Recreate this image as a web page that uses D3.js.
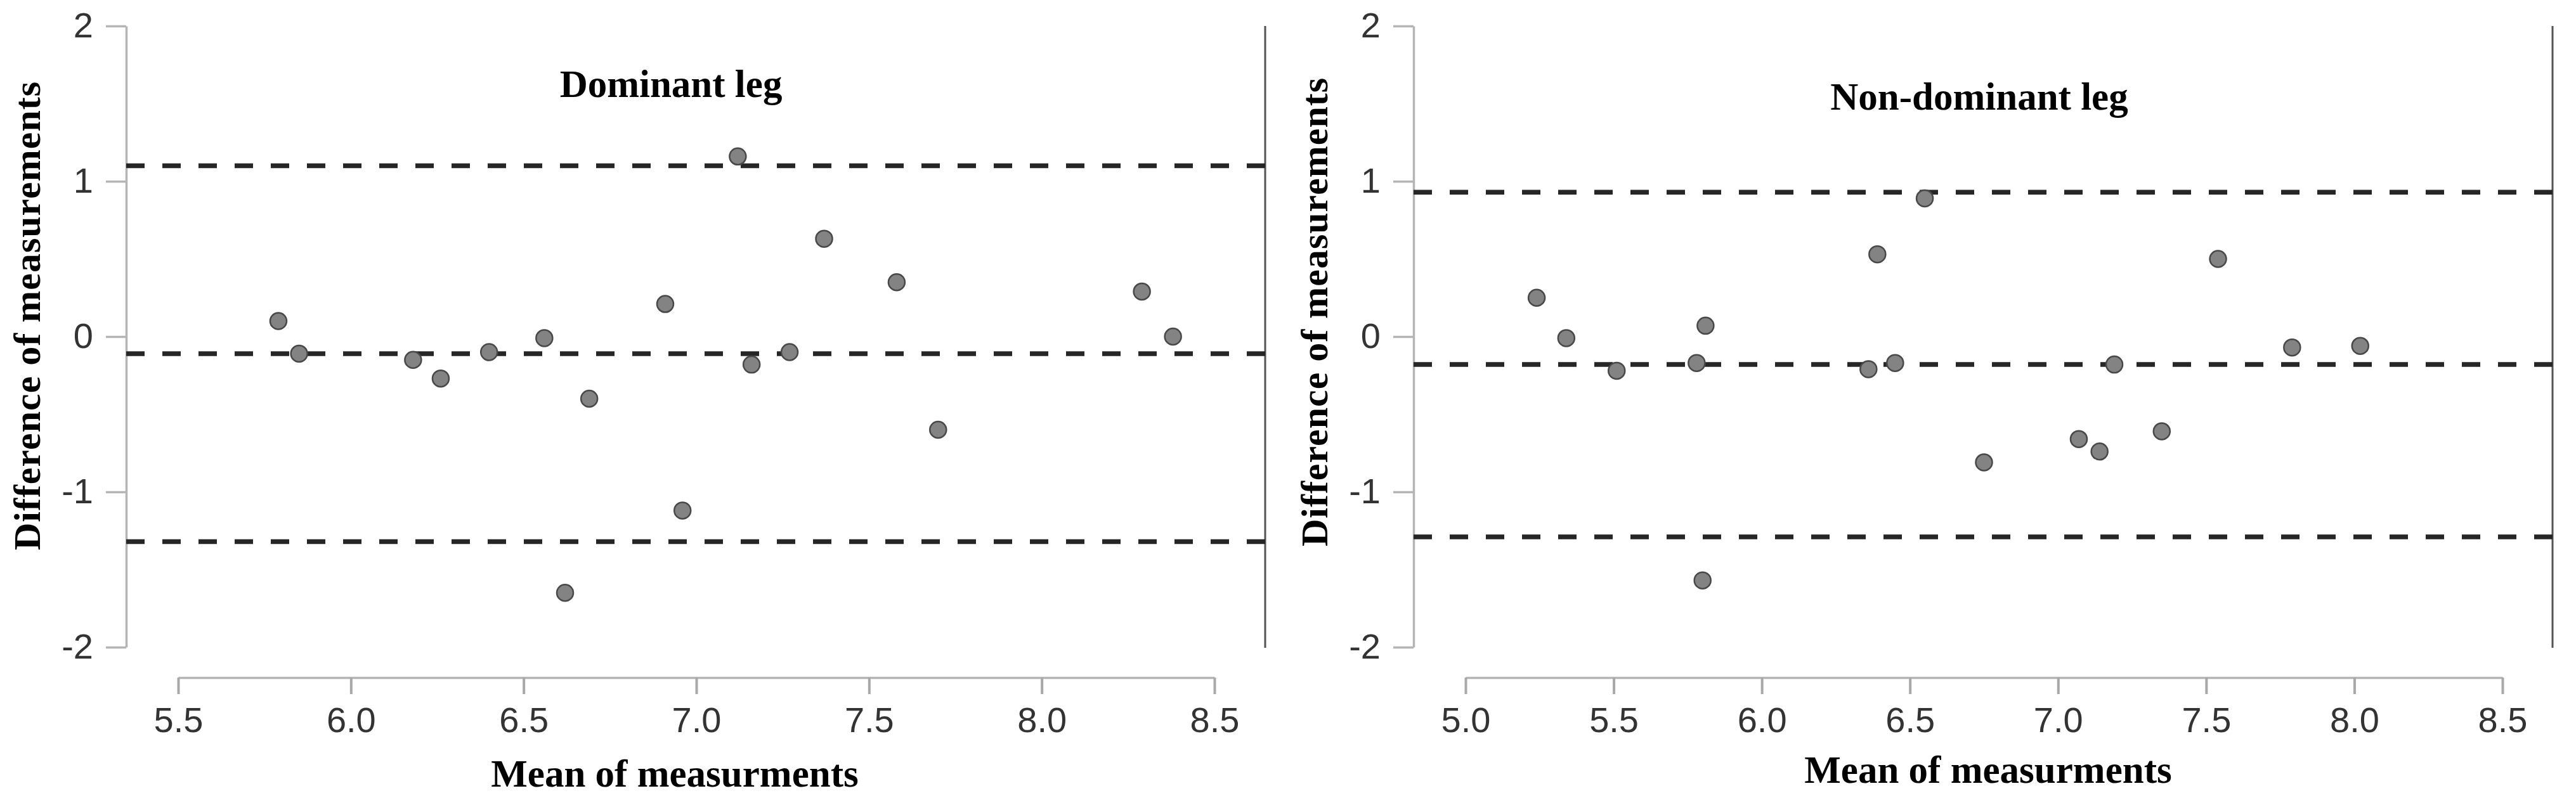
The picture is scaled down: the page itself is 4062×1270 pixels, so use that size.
<!DOCTYPE html>
<html>
<head>
<meta charset="utf-8">
<script src="https://cdn.jsdelivr.net/npm/d3@7"></script>
<style>
  html, body { margin: 0; padding: 0; background: #fff; }
  svg { display: block; }
</style>
</head>
<body>
<svg id="chart" width="4062" height="1270"></svg>
<script>
// ---- Data ----
const panelTitles = ["Dominant leg", "Non-dominant leg"];
const xLabel = "Mean of measurments";
const yLabel = "Difference of measurements";

const leftMean = [5.79, 5.85, 6.18, 6.26, 6.40, 6.56, 6.62, 6.69, 6.91, 6.96, 7.12, 7.16, 7.27, 7.37, 7.58, 7.70, 8.29, 8.38];
const leftDiff = [0.10, -0.11, -0.15, -0.27, -0.10, -0.01, -1.65, -0.40, 0.21, -1.12, 1.16, -0.18, -0.10, 0.63, 0.35, -0.60, 0.29, 0.00];
const leftLimits = [1.10, -0.11, -1.32];
const leftXTicks = [5.5, 6.0, 6.5, 7.0, 7.5, 8.0, 8.5];

const rightMean = [5.24, 5.34, 5.51, 5.78, 5.80, 5.81, 6.36, 6.39, 6.45, 6.55, 6.75, 7.07, 7.14, 7.19, 7.35, 7.54, 7.79, 8.02];
const rightDiff = [0.25, -0.01, -0.22, -0.17, -1.57, 0.07, -0.21, 0.53, -0.17, 0.89, -0.81, -0.66, -0.74, -0.18, -0.61, 0.50, -0.07, -0.06];
const rightLimits = [0.93, -0.18, -1.29];
const rightXTicks = [5.0, 5.5, 6.0, 6.5, 7.0, 7.5, 8.0, 8.5];

const yTicks = [-2, -1, 0, 1, 2];
const yTickLabels = ["-2", "-1", "0", "1", "2"];

// ---- Drawing ----
const svg = d3.select("#chart");

const panels = [
  { title: panelTitles[0], mean: leftMean, diff: leftDiff, limits: leftLimits, xTicks: leftXTicks,
    xDomain: [5.5, 8.5], xRange: [281, 1915], axisX: 199, frameX: 1995,
    titleX: 1058, titleY: 153, xLabX: 1064, xLabY: 1241, yLabX: 63, yLabY: 498 },
  { title: panelTitles[1], mean: rightMean, diff: rightDiff, limits: rightLimits, xTicks: rightXTicks,
    xDomain: [5.0, 8.5], xRange: [2311, 3946], axisX: 2229, frameX: 4025,
    titleX: 3121, titleY: 173, xLabX: 3135, xLabY: 1235, yLabX: 2093, yLabY: 492 }
];

const y = d3.scaleLinear().domain([-2, 2]).range([1021, 41]);
const fmt1 = d3.format(".1f");

panels.forEach(p => {
  const x = d3.scaleLinear().domain(p.xDomain).range(p.xRange);
  const g = svg.append("g");

  // right frame line
  g.append("line")
    .attr("x1", p.frameX).attr("x2", p.frameX)
    .attr("y1", y(2)).attr("y2", y(-2) + 1)
    .attr("stroke", "#555").attr("stroke-width", 3);

  // y axis
  const yAxis = g.append("g")
    .attr("transform", `translate(${p.axisX},0)`)
    .call(d3.axisLeft(y).tickValues(yTicks).tickFormat((d, i) => yTickLabels[i])
      .tickSize(32).tickSizeOuter(0).tickPadding(20));
  yAxis.select(".domain").attr("stroke", "#b5b5b5").attr("stroke-width", 3.5);
  yAxis.selectAll(".tick line").attr("stroke", "#b5b5b5").attr("stroke-width", 3.5);
  yAxis.selectAll(".tick text")
    .attr("font-family", "'Liberation Sans', Arial, sans-serif")
    .attr("font-size", 56).attr("fill", "#333");

  // x axis
  const xAxis = g.append("g")
    .attr("transform", `translate(0,1069)`)
    .call(d3.axisBottom(x).tickValues(p.xTicks).tickFormat(fmt1)
      .tickSize(26).tickSizeOuter(0).tickPadding(20));
  xAxis.select(".domain").attr("stroke", "#b5b5b5").attr("stroke-width", 3.5);
  xAxis.selectAll(".tick line").attr("stroke", "#a8a8a8").attr("stroke-width", 4);
  xAxis.selectAll(".tick text")
    .attr("font-family", "'Liberation Sans', Arial, sans-serif")
    .attr("font-size", 56).attr("fill", "#333");

  // dashed limit lines
  g.selectAll("line.limit").data(p.limits).enter().append("line")
    .attr("class", "limit")
    .attr("x1", p.axisX).attr("x2", p.frameX)
    .attr("y1", d => y(d)).attr("y2", d => y(d))
    .attr("stroke", "#262626").attr("stroke-width", 7.5)
    .attr("stroke-dasharray", "29,28");

  // points
  g.selectAll("circle.pt").data(p.mean.map((m, i) => [m, p.diff[i]])).enter().append("circle")
    .attr("class", "pt")
    .attr("cx", d => x(d[0])).attr("cy", d => y(d[1]))
    .attr("r", 13)
    .attr("fill", "#838383").attr("stroke", "#484848").attr("stroke-width", 2.5);

  // title
  g.append("text")
    .attr("x", p.titleX).attr("y", p.titleY)
    .attr("text-anchor", "middle")
    .attr("font-family", "'Liberation Serif', 'Times New Roman', serif")
    .attr("font-weight", "bold").attr("font-size", 61).attr("fill", "#000")
    .text(p.title);

  // x label
  g.append("text")
    .attr("x", p.xLabX).attr("y", p.xLabY)
    .attr("text-anchor", "middle")
    .attr("font-family", "'Liberation Serif', 'Times New Roman', serif")
    .attr("font-weight", "bold").attr("font-size", 61).attr("fill", "#000")
    .text(xLabel);

  // y label
  g.append("text")
    .attr("transform", `translate(${p.yLabX},${p.yLabY}) rotate(-90)`)
    .attr("text-anchor", "middle")
    .attr("font-family", "'Liberation Serif', 'Times New Roman', serif")
    .attr("font-weight", "bold").attr("font-size", 60).attr("fill", "#000")
    .attr("letter-spacing", 1)
    .text(yLabel);
});
</script>
</body>
</html>
